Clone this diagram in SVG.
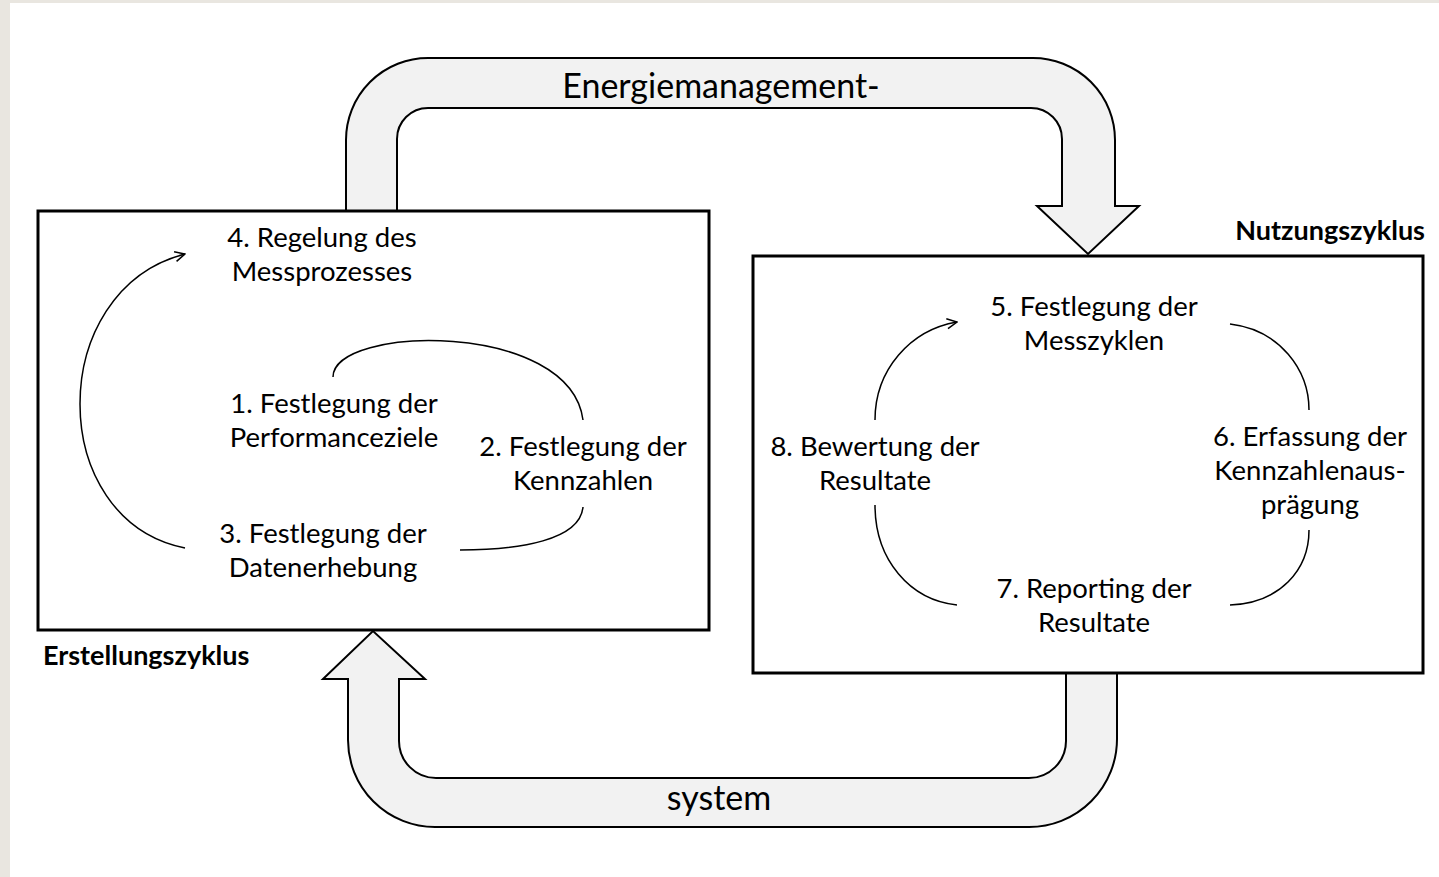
<svg xmlns="http://www.w3.org/2000/svg" width="1439" height="877" viewBox="0 0 1439 877">
<defs>
<style>
.bg{fill:#e9e6e0}
.page{fill:#ffffff}
.box{fill:#ffffff;stroke:#000;stroke-width:3}
.big{fill:#f2f2f2;stroke:#000;stroke-width:2;stroke-linejoin:miter}
.t{font-family:Lato,"Open Sans","Liberation Sans",sans-serif;font-size:27.5px;fill:#000;text-anchor:middle}
.lbl{font-family:Lato,"Open Sans","Liberation Sans",sans-serif;font-size:34px;fill:#000;text-anchor:middle}
.b{font-family:Lato,"Open Sans","Liberation Sans",sans-serif;font-size:27px;font-weight:bold;fill:#000}
.c{fill:none;stroke:#000;stroke-width:1.5}
</style>
<marker id="ah" viewBox="0 0 12 12" refX="11" refY="6" markerWidth="12" markerHeight="12" markerUnits="userSpaceOnUse" orient="auto">
<polyline points="1,1 11,6 1,11" fill="none" stroke="#000" stroke-width="1.5"/>
</marker>
</defs>
<rect class="bg" x="0" y="0" width="1439" height="877"/>
<rect class="page" x="10" y="3" width="1429" height="874"/>

<g id="flow-arrows">
<path id="arrow-top" class="big" d="M346,211 L346,140 A82,82 0 0 1 428,58 L1033,58 A82,82 0 0 1 1115,140 L1115,206 L1139,206 L1088,254 L1037,206 L1062,206 L1062,139 A31,31 0 0 0 1031,108 L428,108 A31,31 0 0 0 397,139 L397,211 Z"/>
<path id="arrow-bottom" class="big" d="M1066,673 L1066,741 A37,37 0 0 1 1029,778 L436,778 A37,37 0 0 1 399,741 L399,679 L425,679 L373,631 L323,679 L348,679 L348,740 A87,87 0 0 0 435,827 L1029,827 A88,88 0 0 0 1117,739 L1117,673 Z"/>
<text class="lbl" x="721" y="98">Energiemanagement-</text>
<text class="lbl" x="719" y="810">system</text>
</g>

<g id="erstellungszyklus">
<rect class="box" x="38" y="211" width="671" height="419"/>
<text class="b" x="43" y="665">Erstellungszyklus</text>
</g>
<g id="nutzungszyklus">
<rect class="box" x="753" y="256" width="670" height="417"/>
<text class="b" x="1425" y="240" text-anchor="end">Nutzungszyklus</text>
</g>

<g id="node4"><text class="t" x="322" y="247">4. Regelung des</text><text class="t" x="322" y="281">Messprozesses</text></g>
<g id="node1"><text class="t" x="334" y="413">1. Festlegung der</text><text class="t" x="334" y="447">Performanceziele</text></g>
<g id="node2"><text class="t" x="583" y="456">2. Festlegung der</text><text class="t" x="583" y="490">Kennzahlen</text></g>
<g id="node3"><text class="t" x="323" y="543">3. Festlegung der</text><text class="t" x="323" y="577">Datenerhebung</text></g>
<g id="node5"><text class="t" x="1094" y="316">5. Festlegung der</text><text class="t" x="1094" y="350">Messzyklen</text></g>
<g id="node6"><text class="t" x="1310" y="446">6. Erfassung der</text><text class="t" x="1310" y="480">Kennzahlenaus-</text><text class="t" x="1310" y="514">prägung</text></g>
<g id="node7"><text class="t" x="1094" y="598">7. Reporting der</text><text class="t" x="1094" y="632">Resultate</text></g>
<g id="node8"><text class="t" x="875" y="456">8. Bewertung der</text><text class="t" x="875" y="490">Resultate</text></g>

<g id="connectors">
<path class="c" d="M185,548 C45,520 45,290 185,254" marker-end="url(#ah)"/>
<path class="c" d="M333,377 C333,325 570,320 583,420"/>
<path class="c" d="M583,507 C580,540 520,550 460,550"/>
<path class="c" d="M875,420 C875,370 910,330 957,322" marker-end="url(#ah)"/>
<path class="c" d="M1230,324 C1280,330 1309,370 1309,410"/>
<path class="c" d="M1309,530 C1309,570 1280,603 1230,605"/>
<path class="c" d="M957,605 C910,600 875,560 875,505"/>
</g>
</svg>
